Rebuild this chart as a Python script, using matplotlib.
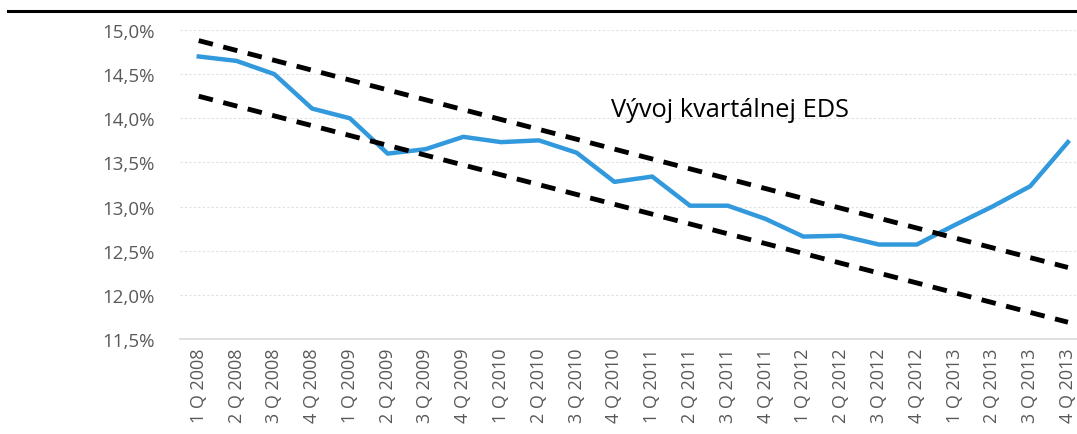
import numpy as np
import matplotlib.pyplot as plt
from matplotlib.lines import Line2D
from matplotlib.ticker import FuncFormatter

# quarters 2008-2013
quarters = [f"{q} Q {y}" for y in range(2008, 2014) for q in range(1, 5)]

# quarterly EDS (%)
eds = [14.70, 14.65, 14.50, 14.11, 14.00, 13.60, 13.65, 13.79,
       13.73, 13.75, 13.61, 13.28, 13.34, 13.01, 13.01, 12.86,
       12.66, 12.67, 12.57, 12.57, 12.79, 13.00, 13.23, 13.73]

# trend channel, start/end values
upper_band = [14.88, 12.31]
lower_band = [14.25, 11.69]

yticks = [11.5, 12.0, 12.5, 13.0, 13.5, 14.0, 14.5, 15.0]

grey = "#595959"
plt.rcParams['font.family'] = ['Open Sans', 'DejaVu Sans']

fig = plt.figure(figsize=(10.77, 4.35), dpi=100)
ax = fig.add_axes([0.167, 0.2184, 0.833, 0.7103])

x = np.arange(len(quarters))
ax.plot(x, eds, color="#3399dd", lw=3.2, solid_joinstyle='round', zorder=3)
ends = [x[0], x[-1]]
ax.plot(ends, upper_band, color="black", lw=3.5, dashes=(3, 2.2), zorder=4)
ax.plot(ends, lower_band, color="black", lw=3.5, dashes=(3, 2.2), zorder=4)

ax.set_xlim(-0.5, 23.24)
ax.set_ylim(11.5, 15.0)
ax.set_yticks(yticks)
ax.yaxis.set_major_formatter(FuncFormatter(lambda v, p: f"{v:.1f}%".replace(".", ",")))
ax.set_xticks(x)
ax.set_xticklabels(quarters, rotation=90)
ax.tick_params(axis='y', length=0, pad=18, labelsize=13.5, labelcolor=grey)
ax.tick_params(axis='x', length=0, pad=6, labelsize=13, labelcolor=grey)

ax.grid(axis='y', color="#e0e0e0", lw=0.8, ls=(0, (2, 2)))
ax.set_axisbelow(True)
for s in ['top', 'right', 'left']:
    ax.spines[s].set_visible(False)
ax.spines['bottom'].set_color("#d9d9d9")
ax.spines['bottom'].set_linewidth(1.2)

ax.text(10.9, 14.1, "Vývoj kvartálnej EDS", fontsize=18.3, color="black",
        ha='left', va='center')

# rule line on top of the picture
fig.add_artist(Line2D([0.007, 1.0], [0.972, 0.972], color="black", lw=2.2,
                      transform=fig.transFigure))

fig.savefig("out.png", dpi=100)
